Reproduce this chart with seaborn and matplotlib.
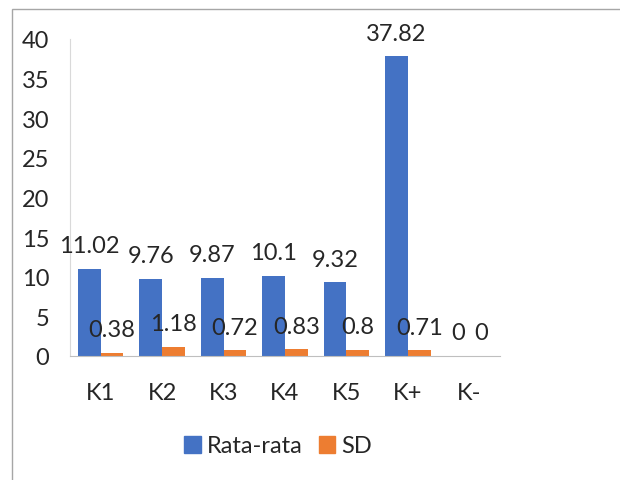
import pandas as pd
import matplotlib.pyplot as plt
import seaborn as sns
from matplotlib.patches import Rectangle, Patch

# data
kategori = ['K1', 'K2', 'K3', 'K4', 'K5', 'K+', 'K-']
rata_rata = [11.02, 9.76, 9.87, 10.1, 9.32, 37.82, 0]
sd = [0.38, 1.18, 0.72, 0.83, 0.8, 0.71, 0]
seri = ['Rata-rata', 'SD']
warna = ['#4472C4', '#ED7D31']

df = pd.DataFrame({
    'kategori': kategori * 2,
    'nilai': rata_rata + sd,
    'seri': [seri[0]] * len(kategori) + [seri[1]] * len(kategori),
})

sns.set_style('white')
plt.rcParams['font.family'] = ['Lato', 'DejaVu Sans']
fs = 17

fig = plt.figure(figsize=(6.2, 4.81), dpi=100)
ax = fig.add_axes([70 / 620, 1 - 357 / 481, 430 / 620, 317 / 481])

sns.barplot(data=df, x='kategori', y='nilai', hue='seri', palette=warna,
            width=0.74, ax=ax, legend=False, saturation=1, linewidth=0)

for cont in ax.containers:
    labels = [f'{v:g}' for v in cont.datavalues]
    ax.bar_label(cont, labels=labels, padding=9, fontsize=fs)

ax.set_ylim(0, 40)
ax.set_yticks(range(0, 41, 5))
ax.set_xlim(-0.5, len(kategori) - 0.5)
ax.set_xlabel('')
ax.set_ylabel('')
ax.tick_params(axis='y', length=0, pad=15, labelsize=fs)
ax.tick_params(axis='x', length=0, pad=19, labelsize=fs)
for s in ['top', 'right']:
    ax.spines[s].set_visible(False)
ax.spines['left'].set_color('#d9d9d9')
ax.spines['bottom'].set_color('#bfbfbf')

handles = [Patch(color=c, label=l) for c, l in zip(warna, seri)]
fig.legend(handles=handles, loc='center', bbox_to_anchor=(278 / 620, 1 - 447 / 481),
           ncol=2, frameon=False, fontsize=fs, handlelength=0.7,
           handleheight=0.7, handletextpad=0.25, columnspacing=0.7)

# outer chart border like the original
fig.patches.append(Rectangle((12 / 620, -0.1), 1.2, 1 - 10 / 481 + 0.1,
                             transform=fig.transFigure, fill=False,
                             edgecolor='#a6a6a6', linewidth=1))

fig.savefig('out.png', dpi=100)
